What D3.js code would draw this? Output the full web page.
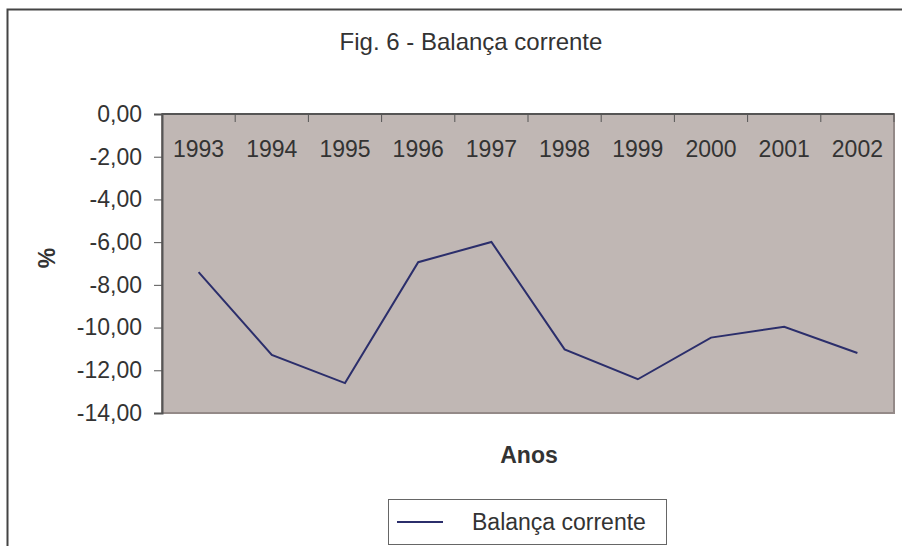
<!DOCTYPE html>
<html>
<head>
<meta charset="utf-8">
<script src="https://cdn.jsdelivr.net/npm/d3@7"></script>
<style>
    body { margin: 0; background: #fff; }
    text { font-family: "Liberation Sans", Arial, sans-serif; fill: #333; }
</style>
</head>
<body>
<div id="chart"></div>
<script>
const years = ["1993", "1994", "1995", "1996", "1997", "1998", "1999", "2000", "2001", "2002"];
const balanca = [-7.40, -11.28, -12.60, -6.94, -5.99, -11.02, -12.42, -10.47, -9.96, -11.19];
const yTicks = [0, -2, -4, -6, -8, -10, -12, -14];

const W = 902, H = 546;
const plot = { left: 162, top: 114, right: 894, bottom: 413 };

const svg = d3.select("#chart")
    .append("svg")
    .attr("width", W)
    .attr("height", H);

// outer chart frame (runs off the right and bottom of the picture)
svg.append("rect")
    .attr("x", 7.5).attr("y", 9.5)
    .attr("width", W + 20).attr("height", H + 20)
    .attr("fill", "#fff")
    .attr("stroke", "#444")
    .attr("stroke-width", 2);

const xScale = d3.scaleBand()
    .domain(years)
    .range([plot.left, plot.right]);

const yScale = d3.scaleLinear()
    .domain([-14, 0])
    .range([plot.bottom, plot.top]);

// plot area
svg.append("rect")
    .attr("x", plot.left).attr("y", plot.top)
    .attr("width", plot.right - plot.left)
    .attr("height", plot.bottom - plot.top)
    .attr("fill", "#c0b7b4")
    .attr("stroke", "#948a88")
    .attr("stroke-width", 2);

// y axis
const yAxis = d3.axisLeft(yScale)
    .tickValues(yTicks)
    .tickSize(8)
    .tickPadding(12)
    .tickFormat(d => d3.format(".2f")(d).replace(".", ",").replace("−", "-"));

const gy = svg.append("g")
    .attr("transform", `translate(${plot.left},0)`)
    .call(yAxis);
gy.select(".domain").attr("stroke", "#555").attr("stroke-width", 2);
gy.selectAll(".tick line").attr("stroke", "#555");
gy.selectAll("text")
    .style("font-size", "23px")
    .attr("fill", "#333");

// x axis sits at 0, ticks between categories pointing into the plot
svg.append("line")
    .attr("x1", plot.left).attr("x2", plot.right)
    .attr("y1", yScale(0)).attr("y2", yScale(0))
    .attr("stroke", "#555")
    .attr("stroke-width", 2);

svg.selectAll(".xtick")
    .data(years.slice(1).concat(["end"]))
    .enter()
    .append("line")
    .attr("class", "xtick")
    .attr("x1", (d, i) => xScale(years[0]) + xScale.step() * (i + 1))
    .attr("x2", (d, i) => xScale(years[0]) + xScale.step() * (i + 1))
    .attr("y1", yScale(0))
    .attr("y2", yScale(0) + 8)
    .attr("stroke", "#555");

svg.selectAll(".xlabel")
    .data(years)
    .enter()
    .append("text")
    .attr("class", "xlabel")
    .attr("x", d => xScale(d) + xScale.bandwidth() / 2)
    .attr("y", yScale(0) + 43)
    .attr("text-anchor", "middle")
    .style("font-size", "23px")
    .text(d => d);

// series line
const line = d3.line()
    .x((d, i) => xScale(years[i]) + xScale.bandwidth() / 2)
    .y(d => yScale(d));

svg.append("path")
    .datum(balanca)
    .attr("d", line)
    .attr("fill", "none")
    .attr("stroke", "#2b2e6b")
    .attr("stroke-width", 2);

// titles
svg.append("text")
    .attr("x", 471)
    .attr("y", 50)
    .attr("text-anchor", "middle")
    .style("font-size", "24px")
    .text("Fig. 6 - Balança corrente");

svg.append("text")
    .attr("x", 529)
    .attr("y", 463)
    .attr("text-anchor", "middle")
    .style("font-size", "23px")
    .style("font-weight", "bold")
    .text("Anos");

svg.append("text")
    .attr("transform", "translate(55,258) rotate(-90)")
    .attr("text-anchor", "middle")
    .style("font-size", "23px")
    .style("font-weight", "bold")
    .text("%");

// legend
const legend = svg.append("g").attr("transform", "translate(388,499)");
legend.append("rect")
    .attr("x", 0.5).attr("y", 0.5)
    .attr("width", 278).attr("height", 45)
    .attr("fill", "#fff")
    .attr("stroke", "#666");
legend.append("line")
    .attr("x1", 9).attr("x2", 55)
    .attr("y1", 23).attr("y2", 23)
    .attr("stroke", "#2b2e6b")
    .attr("stroke-width", 2);
legend.append("text")
    .attr("x", 84)
    .attr("y", 31)
    .style("font-size", "23px")
    .text("Balança corrente");
</script>
</body>
</html>
